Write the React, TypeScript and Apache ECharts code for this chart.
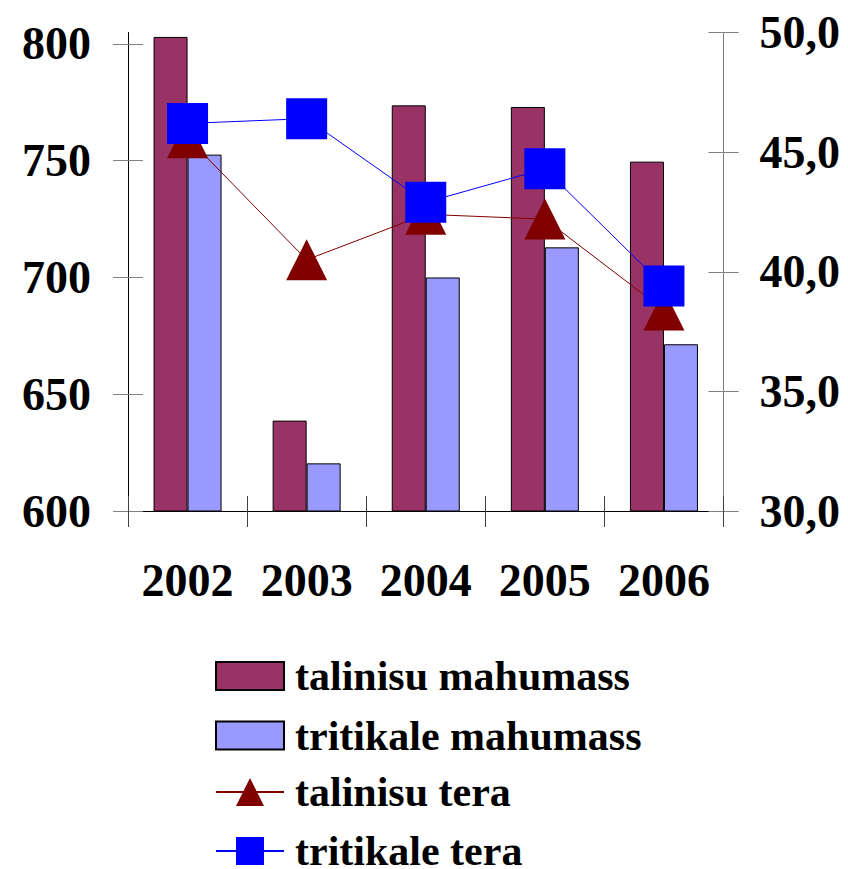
import { useEffect, useRef } from 'react';
import * as echarts from 'echarts';

const years = ['2002', '2003', '2004', '2005', '2006'];
const talinisuMahumass = [803, 638.7, 773.7, 773, 749.6];
const tritikaleMahumass = [752.6, 620.4, 700, 712.9, 671.4];
const talinisuTera = [45.6, 40.5, 42.4, 42.2, 38.4];
const tritikaleTera = [46.2, 46.4, 42.9, 44.3, 39.4];
const leftTicks = [600, 650, 700, 750, 800];
const rightTicks = [30, 35, 40, 45, 50];
const legendNames = ['talinisu mahumass', 'tritikale mahumass', 'talinisu tera', 'tritikale tera'];

const FONT = '"Liberation Serif", "Times New Roman", serif';

export default function App() {
  const ref = useRef<HTMLDivElement>(null);
  useEffect(() => {
    if (!ref.current) return;
    const chart = echarts.init(ref.current, null, { renderer: 'svg' });
    const leftMin = 600;
    const leftMax = 804.9;
    const tickGray = '#808080';
    const rowCenters = [669, 728.5, 788.5, 847.5];
    const legendText = { fontFamily: FONT, fontWeight: 'bold', fontSize: 42, color: '#000', lineHeight: 24, padding: [0, 0, 0, 6] };
    const legends = legendNames.map((name, i) => {
      const isBar = i < 2;
      const h = isBar ? 28 : 35;
      return {
        data: [isBar ? { name, icon: 'rect' } : { name }],
        orient: 'vertical',
        left: 215,
        top: rowCenters[i] - h / 2,
        padding: 0,
        itemWidth: 68,
        itemHeight: h,
        selectedMode: false,
        textStyle: legendText,
      };
    });
    chart.setOption({
      animation: false,
      backgroundColor: '#ffffff',
      grid: { left: 128, right: 124.5, top: 32.5, bottom: 358, containLabel: false },
      legend: legends,
      xAxis: [
        {
          type: 'category',
          data: years,
          position: 'bottom',
          boundaryGap: true,
          axisLine: { show: true, lineStyle: { color: '#000', width: 1 } },
          axisTick: { show: true, interval: 0, length: 16, inside: false, lineStyle: { color: '#404040', width: 1 } },
          axisLabel: { fontFamily: FONT, fontWeight: 'bold', fontSize: 46, color: '#000', margin: 46, interval: 0 },
          splitLine: { show: false },
        },
        {
          type: 'category',
          data: years,
          position: 'bottom',
          boundaryGap: true,
          axisLine: { show: false },
          axisTick: { show: true, interval: 0, length: 15, inside: true, lineStyle: { color: '#404040', width: 1 } },
          axisLabel: { show: false },
          splitLine: { show: false },
        },
      ],
      yAxis: [
        {
          type: 'value',
          position: 'left',
          min: leftMin,
          max: leftMax,
          interval: 50,
          axisLine: { show: true, lineStyle: { color: '#000', width: 1 } },
          axisTick: { show: true, length: 15, inside: false, customValues: leftTicks, lineStyle: { color: tickGray, width: 1 } },
          axisLabel: { fontFamily: FONT, fontWeight: 'bold', fontSize: 46, color: '#000', margin: 37, customValues: leftTicks },
          splitLine: { show: false },
        },
        {
          type: 'value',
          position: 'right',
          min: 30,
          max: 50,
          interval: 5,
          axisLine: { show: true, lineStyle: { color: tickGray, width: 1 } },
          axisTick: { show: true, length: 15, inside: false, lineStyle: { color: tickGray, width: 1 } },
          axisLabel: {
            fontFamily: FONT, fontWeight: 'bold', fontSize: 46, color: '#000', margin: 36,
            formatter: (v: number) => v.toFixed(1).replace('.', ','),
          },
          splitLine: { show: false },
        },
        {
          type: 'value',
          position: 'left',
          min: leftMin,
          max: leftMax,
          interval: 50,
          axisLine: { show: false },
          axisTick: { show: true, length: 15, inside: true, customValues: leftTicks, lineStyle: { color: tickGray, width: 1 } },
          axisLabel: { show: false },
          splitLine: { show: false },
        },
        {
          type: 'value',
          position: 'right',
          min: 30,
          max: 50,
          interval: 5,
          axisLine: { show: false },
          axisTick: { show: true, length: 15, inside: true, customValues: rightTicks, lineStyle: { color: tickGray, width: 1 } },
          axisLabel: { show: false },
          splitLine: { show: false },
        },
      ],
      series: [
        {
          name: 'talinisu mahumass',
          type: 'bar',
          xAxisIndex: 0,
          yAxisIndex: 0,
          data: talinisuMahumass,
          barWidth: 34,
          barGap: '0%',
          itemStyle: { color: '#993366', borderColor: '#000', borderWidth: 1 },
          z: 2,
        },
        {
          name: 'tritikale mahumass',
          type: 'bar',
          xAxisIndex: 0,
          yAxisIndex: 0,
          data: tritikaleMahumass,
          barWidth: 34,
          barGap: '0%',
          itemStyle: { color: '#9999FF', borderColor: '#000', borderWidth: 1 },
          z: 2,
        },
        {
          name: 'talinisu tera',
          type: 'line',
          xAxisIndex: 0,
          yAxisIndex: 1,
          data: talinisuTera,
          symbol: 'triangle',
          symbolSize: 41,
          lineStyle: { color: '#800000', width: 1 },
          itemStyle: { color: '#800000' },
          z: 3,
        },
        {
          name: 'tritikale tera',
          type: 'line',
          xAxisIndex: 0,
          yAxisIndex: 1,
          data: tritikaleTera,
          symbol: 'rect',
          symbolSize: 41,
          lineStyle: { color: '#0000FF', width: 1 },
          itemStyle: { color: '#0000FF' },
          z: 4,
        },
      ],
    });
    return () => chart.dispose();
  }, []);
  return <div ref={ref} style={{ width: 848, height: 869, position: 'absolute', left: 0, top: 0 }} />;
}
